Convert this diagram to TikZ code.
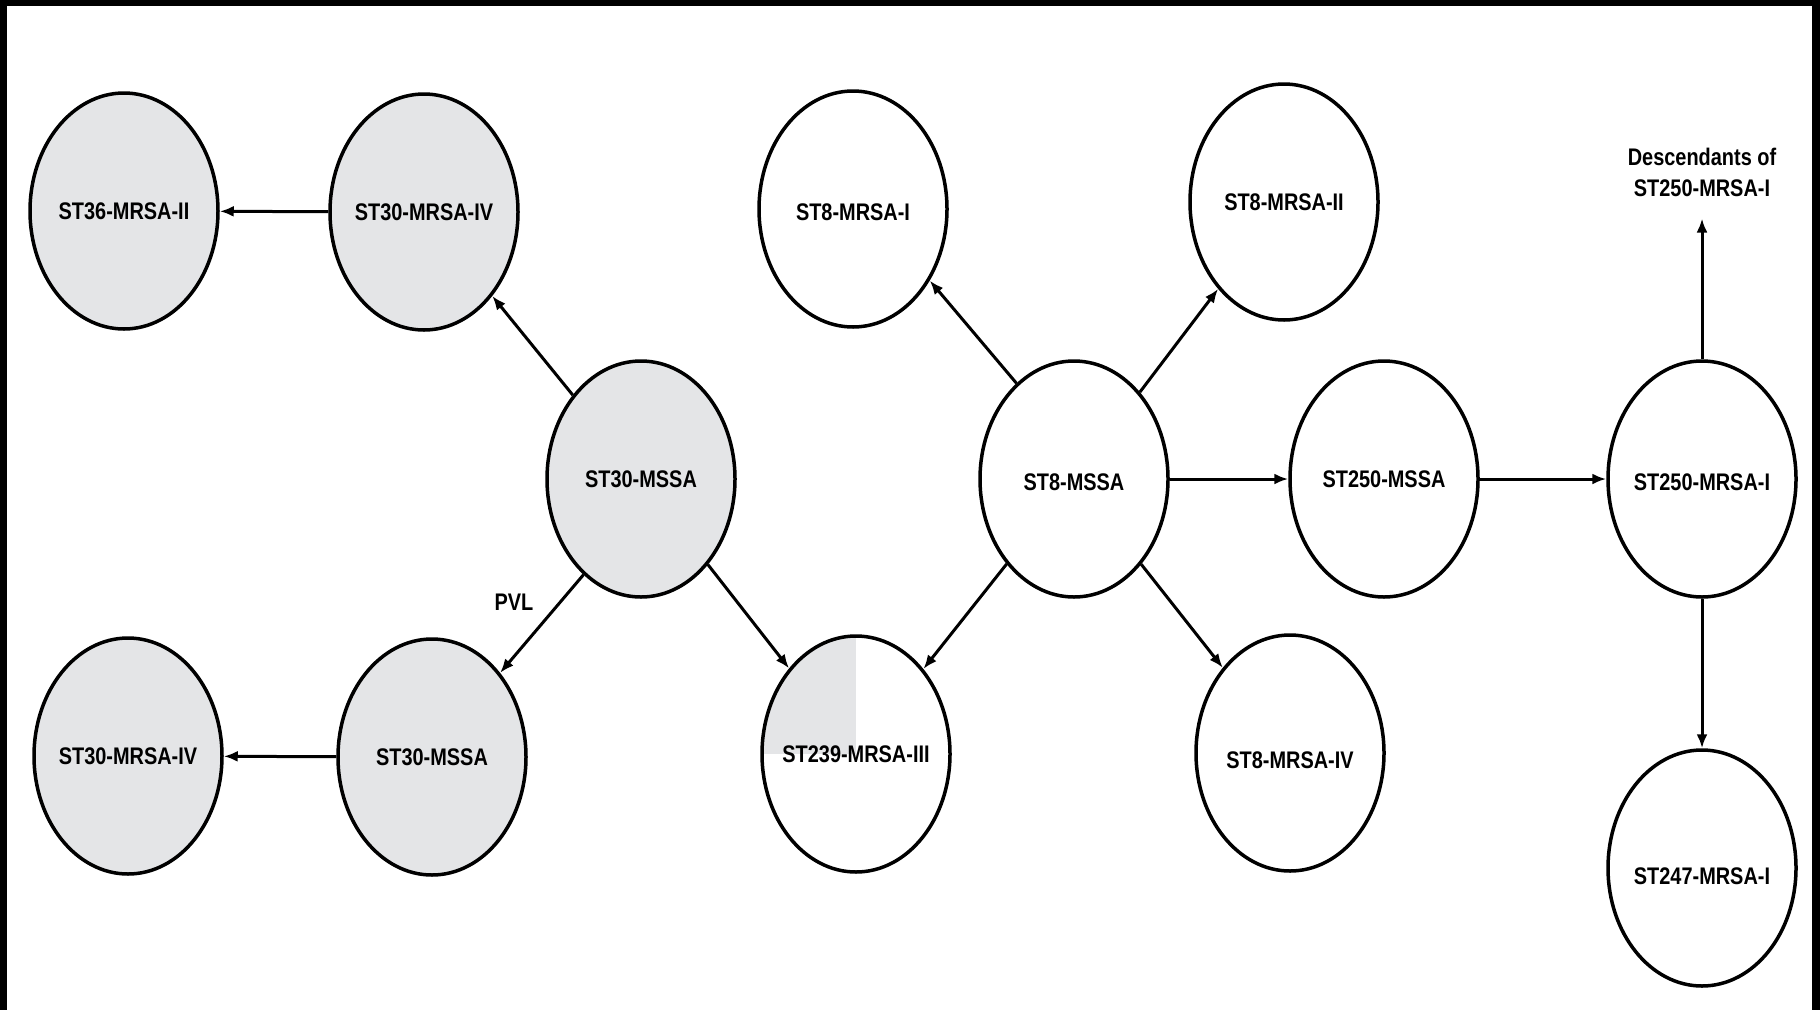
\documentclass[tikz,border=0pt]{standalone}
\usepackage{fontspec}
\setmainfont{Liberation Sans}[FakeStretch=0.83]
\usetikzlibrary{shapes.geometric,arrows.meta}
\definecolor{nodegray}{RGB}{228,229,231}
\newcommand{\zw}[1]{\makebox[0pt]{#1}}
\begin{document}
\begin{tikzpicture}[x=1pt,y=-1pt,
  strain/.style={ellipse, draw=black, line width=3.5pt, minimum width=188pt, minimum height=236pt, inner sep=0pt,
    text height=17.2pt, text depth=0pt, font=\fontsize{24}{28}\selectfont\bfseries},
  tdown/.style={text height=#1},
  shaded/.style={strain, fill=nodegray},
  plain/.style={strain, fill=white},
  arr/.style={line width=3pt, -{Latex[length=14pt,width=11pt]}},
  lbl/.style={font=\fontsize{24}{31}\selectfont\bfseries, inner sep=0pt, align=center}]
\fill[black] (0,0) rectangle (1820,1010);
\fill[white] (7,6) rectangle (1812,1010);
\useasboundingbox (0,0) rectangle (1820,1010);

\node[shaded] (st36) at (124,211) {\zw{ST36-MRSA-II}};
\node[shaded] (st30ivt) at (424,212) {\zw{ST30-MRSA-IV}};
\node[shaded] (st30c) at (641,479) {\zw{ST30-MSSA}};
\node[shaded] (st30b) at (432,757) {\zw{ST30-MSSA}};
\node[shaded] (st30ivb) at (128,756) {\zw{ST30-MRSA-IV}};
\coordinate (c239) at (856,754);
\begin{scope}
  \clip (c239) ellipse [x radius=94pt, y radius=118pt];
  \fill[nodegray] (c239) rectangle ++(-110,-130);
\end{scope}
\node[strain] (st239) at (c239) {\zw{ST239-MRSA-III}};
\node[plain, tdown=23pt] (st8i) at (853,209) {\zw{ST8-MRSA-I}};
\node[plain, tdown=23pt] (st8m) at (1074,479) {\zw{ST8-MSSA}};
\node[plain] (st8ii) at (1284,202) {\zw{ST8-MRSA-II}};
\node[plain, tdown=30pt] (st8iv) at (1290,753) {\zw{ST8-MRSA-IV}};
\node[plain] (st250m) at (1384,479) {\zw{ST250-MSSA}};
\node[plain, tdown=23pt] (st250i) at (1702,479) {\zw{ST250-MRSA-I}};
\node[plain, tdown=32pt] (st247) at (1702,868) {\zw{ST247-MRSA-I}};
\node[lbl] (desc) at (1702,172) {Descendants of\\ST250-MRSA-I};
\node[lbl] (pvl) at (514,602) {PVL};

\draw[arr] (st30ivt) -- (st36);
\draw[arr] (st30c) -- (st30ivt);
\draw[arr] (st30c.-121) -- (st30b.51);
\draw[arr] (st30c) -- (st239);
\draw[arr] (st30b) -- (st30ivb);
\draw[arr] (st8m.121.5) -- (st8i.-43);
\draw[arr] (st8m) -- (st8ii);
\draw[arr] (st8m) -- (st250m);
\draw[arr] (st8m) -- (st239);
\draw[arr] (st8m) -- (st8iv);
\draw[arr] (st250m) -- (st250i);
\draw[arr, shorten >=22pt] (st250i) -- (desc);
\draw[arr] (st250i) -- (st247);
\end{tikzpicture}
\end{document}
